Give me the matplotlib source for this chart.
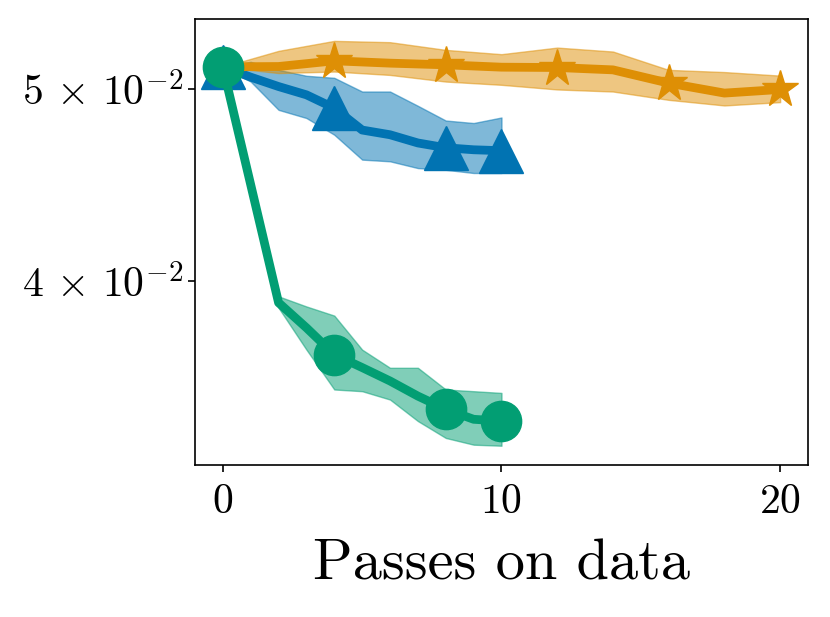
import numpy as np
import matplotlib
matplotlib.use('Agg')
import matplotlib.pyplot as plt

plt.rcParams['font.family'] = 'serif'
plt.rcParams['font.serif'] = ['cmr10']
plt.rcParams['mathtext.fontset'] = 'cm'
plt.rcParams['axes.formatter.use_mathtext'] = True

# green (circles), passes 0..10
x_green = [0, 1, 2, 3, 4, 5, 6, 7, 8, 9, 10]
green_mean = [0.05131, 0.04475, 0.03902, 0.03790, 0.03674, 0.03619, 0.03563, 0.03501, 0.03448, 0.03408, 0.03401]
green_low = [0.05131, 0.04475, 0.03879, 0.03695, 0.03528, 0.03521, 0.03487, 0.03401, 0.03335, 0.03309, 0.03305]
green_up = [0.05131, 0.04475, 0.03931, 0.03885, 0.03844, 0.03695, 0.03618, 0.03618, 0.03528, 0.03521, 0.03514]

# blue (triangles), passes 0..10
x_blue = [0, 1, 2, 3, 4, 5, 6, 7, 8, 9, 10]
blue_mean = [0.05131, 0.05070, 0.05015, 0.04967, 0.04891, 0.04768, 0.04742, 0.04697, 0.04671, 0.04660, 0.04655]
blue_low = [0.05131, 0.05044, 0.04881, 0.04835, 0.04742, 0.04607, 0.04598, 0.04562, 0.04553, 0.04536, 0.04536]
blue_up = [0.05131, 0.05161, 0.05113, 0.05078, 0.05066, 0.04986, 0.04986, 0.04904, 0.04821, 0.04807, 0.04838]

# orange (stars), passes 0..20 step 2
x_orange = [0, 2, 4, 6, 8, 10, 12, 14, 16, 18, 20]
orange_mean = [0.05131, 0.05133, 0.05167, 0.05153, 0.05143, 0.05129, 0.05127, 0.05113, 0.05035, 0.04977, 0.04998]
orange_low = [0.05131, 0.05094, 0.05103, 0.05083, 0.05044, 0.05025, 0.04998, 0.04986, 0.04938, 0.04906, 0.04925]
orange_up = [0.05131, 0.05227, 0.05288, 0.05280, 0.05233, 0.05207, 0.05247, 0.05223, 0.05113, 0.05100, 0.05079]

x_ticks = [0, 10, 20]
y_ticks = [0.04, 0.05]
y_ticklabels = [r'$4\,\times\,10^{-2}$', r'$5\,\times\,10^{-2}$']

c_blue = '#0173b2'
c_orange = '#de8f05'
c_green = '#029e73'

fig = plt.figure(figsize=(8.3, 6.17), dpi=100)
ax = fig.add_axes([0.2349, 0.2464, 0.7386, 0.7228])

ax.plot(x_blue, blue_mean, color=c_blue, lw=6.3, marker='^', ms=31, markevery=[0, 4, 8, 10])
ax.fill_between(x_blue, blue_low, blue_up, color=c_blue, alpha=0.5)

ax.plot(x_orange, orange_mean, color=c_orange, lw=6.3, marker='*', ms=28, markevery=2)
ax.fill_between(x_orange, orange_low, orange_up, color=c_orange, alpha=0.5)

ax.plot(x_green, green_mean, color=c_green, lw=6.3, marker='o', ms=29, markevery=[0, 4, 8, 10])
ax.fill_between(x_green, green_low, green_up, color=c_green, alpha=0.5)

ax.set_yscale('log')
ax.set_xlim(-1, 21)
ax.set_ylim(0.03232, 0.05424)
ax.set_xticks(x_ticks)
ax.yaxis.set_minor_locator(matplotlib.ticker.NullLocator())
ax.set_yticks(y_ticks)
ax.set_yticklabels(y_ticklabels)
ax.set_xlabel('Passes on data', fontsize=42, labelpad=13)
ax.tick_params(axis='both', which='both', labelsize=30, length=5, width=1.2)
ax.tick_params(axis='x', pad=8.5)
for s in ax.spines.values():
    s.set_linewidth(1.2)

fig.savefig('out.png', dpi=100)
